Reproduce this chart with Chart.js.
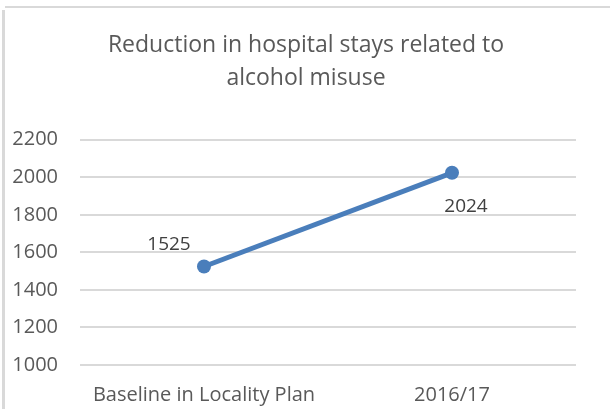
<!DOCTYPE html>
<html>
<head>
<meta charset="utf-8">
<script src="https://cdn.jsdelivr.net/npm/chart.js@4"></script>
<style>
  html, body { margin: 0; padding: 0; background: #fff; }
  #wrap { width: 610px; height: 409px; position: relative; }
</style>
</head>
<body>
<div id="wrap"><canvas id="trendChart" width="610" height="409"></canvas></div>
<script>
const categories = ["Baseline in Locality Plan", "2016/17"];
const stays = [1525, 2024];
const yTicks = [1000, 1200, 1400, 1600, 1800, 2000, 2200];
const titleLines = ["Reduction in hospital stays related to", "alcohol misuse"];

const FONT = "'Open Sans', sans-serif";

// light frame like the Excel chart area border
const framePlugin = {
  id: "frame",
  afterLayout(chart) {
    // centre the title on the whole page, not the padded box
    if (chart.titleBlock) chart.titleBlock.left += 30;
  },
  beforeDraw(chart) {
    const ctx = chart.ctx;
    ctx.save();
    ctx.fillStyle = "#fff";
    ctx.fillRect(0, 0, chart.width, chart.height);
    ctx.strokeStyle = "#d9d9d9";
    ctx.lineWidth = 3;
    ctx.beginPath();
    ctx.moveTo(3.5, 10);
    ctx.lineTo(3.5, chart.height);
    ctx.stroke();
    ctx.lineWidth = 2;
    ctx.beginPath();
    ctx.moveTo(5, 7);
    ctx.lineTo(chart.width, 7);
    ctx.stroke();
    ctx.restore();
  },
};

// value labels: first above-left, second below-right
const labelPlugin = {
  id: "valueLabels",
  afterDatasetsDraw(chart) {
    const ctx = chart.ctx;
    const meta = chart.getDatasetMeta(0);
    const offsets = [
      { dx: -35, dy: -22 },
      { dx: 14, dy: 34 },
    ];
    ctx.save();
    ctx.font = "19px " + FONT;
    ctx.fillStyle = "#404040";
    ctx.textAlign = "center";
    ctx.textBaseline = "middle";
    meta.data.forEach((pt, i) => {
      const o = offsets[i] || { dx: 0, dy: -20 };
      ctx.fillText(String(stays[i]), pt.x + o.dx, pt.y + o.dy);
    });
    ctx.restore();
  },
};

const chartCanvas = document.getElementById("trendChart");
new Chart(chartCanvas, {
  type: "line",
  data: {
    labels: categories,
    datasets: [
      {
        data: stays,
        borderColor: "#4a7ebb",
        backgroundColor: "#4a7ebb",
        borderWidth: 5,
        pointRadius: 7,
        pointHoverRadius: 7,
        pointBorderWidth: 0,
        tension: 0,
      },
    ],
  },
  options: {
    responsive: false,
    animation: false,
    devicePixelRatio: 1,
    layout: { padding: { left: 6, right: 34, top: 29, bottom: -8 } },
    plugins: {
      legend: { display: false },
      tooltip: { enabled: false },
      title: {
        display: true,
        text: titleLines,
        color: "#595959",
        font: { family: FONT, size: 23, weight: "normal", lineHeight: 1.43 },
        padding: { top: 0, bottom: 45 },
      },
    },
    scales: {
      x: {
        offset: true,
        grid: { display: false },
        border: { display: false },
        ticks: {
          color: "#595959",
          font: { family: FONT, size: 20 },
          padding: 10,
          maxRotation: 0,
        },
      },
      y: {
        min: 1000,
        max: 2200,
        afterBuildTicks(scale) {
          scale.ticks = yTicks.map((v) => ({ value: v }));
        },
        afterFit(scale) {
          scale.width = 74;
        },
        grid: { color: "#d9d9d9", lineWidth: 2, drawTicks: false },
        border: { display: false },
        ticks: {
          color: "#595959",
          font: { family: FONT, size: 20 },
          padding: 22,
          callback: (v) => String(v),
        },
      },
    },
  },
  plugins: [framePlugin, labelPlugin],
});
</script>
</body>
</html>
